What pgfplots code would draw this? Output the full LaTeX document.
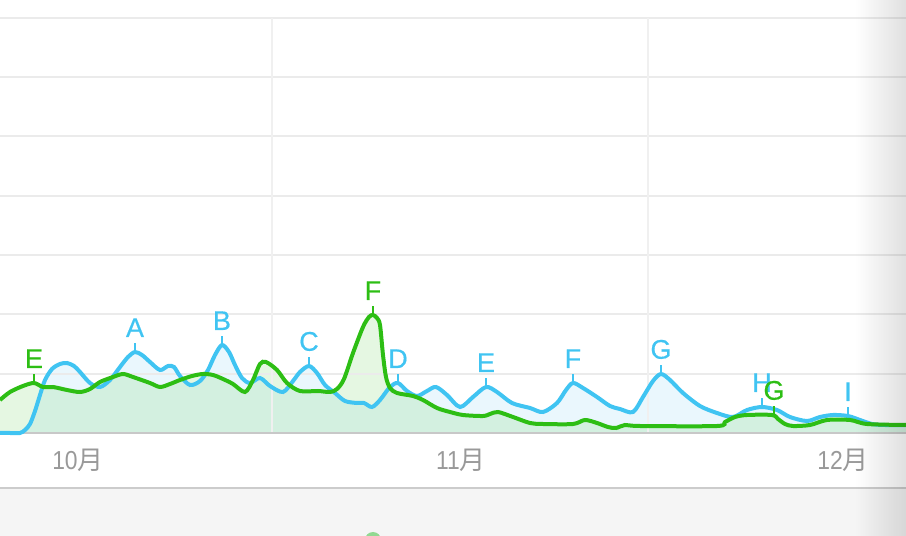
\documentclass[border=0pt]{standalone}
\usepackage{pgfplots}
\usepackage{pgfplotstable}
\pgfplotsset{compat=1.18}
\usepgfplotslibrary{fillbetween}
\usetikzlibrary{fadings}
\usepackage{fontspec}
\setmainfont{Liberation Sans}
\newfontfamily\lblfont[FakeBold=0.5]{Liberation Sans}
\newfontfamily\narrow[FakeStretch=0.88]{Liberation Sans}
\newfontfamily\cjk{Noto Sans CJK SC}
\definecolor{bline}{HTML}{40C4F2}
\definecolor{gline}{HTML}{2DBE14}
\definecolor{bfill}{HTML}{EAF7FD}
\definecolor{gridc}{HTML}{EBEBEB}
\definecolor{vgridc}{HTML}{F0F0F0}
\definecolor{basec}{HTML}{C8C8C8}
\definecolor{bgc}{HTML}{F5F5F5}
\definecolor{sepc}{HTML}{CCCCCC}
\definecolor{tickc}{HTML}{999999}
\definecolor{dotc}{HTML}{92D992}

\pgfplotstableread{
x v
0 0
10 0
20 0
25 3
30 9
35 22
40 38
45 53
52 64
60 69
67 70
74 67
80 61
90 50
100 46
110 53
120 66
128 76
135 81
142 78
150 71
160 63
168 67
174 66
180 57
190 48
200 52
208 63
215 78
222 88
229 81
235 68
242 55
250 50
260 55
270 47
283 41
293 52
300 61
309 67
317 60
325 48
335 40
345 32
357 30
364 30
372 26
380 33
390 46
398 50
407 42
417 37
427 42
436 46
447 38
460 26
473 36
486 46
497 41
512 30
530 25
543 21
557 30
566 43
573 50
583 45
597 36
610 27
620 24
633 21
643 36
653 52
661 59
670 53
683 40
700 27
717 20
733 16
747 23
762 26
777 23
790 16
807 12
820 16
833 18
848 17
860 13
872 9
885 8
906 8
}\bluedata

\pgfplotstableread{
x v
0 33
10 41
23 47
34 50
43 46
53 46
67 43
80 41
90 44
100 51
113 56
123 59
133 56
150 50
160 46
170 49
180 53
192 57
203 59
213 58
223 54
233 49
245 41
253 53
260 69
266 71
277 63
287 50
300 42
318 42
330 41
337 44
344 54
353 80
363 106
369 116
373 118
377 115
380 108
383 78
386 56
390 45
397 40
413 37
423 33
437 25
450 21
463 18
483 17
490 19
498 21
513 16
530 10
543 9
573 9
585 13
597 10
608 6
616 5
625 8
640 7
717 7
725 11
735 16
747 18
772 18
778 14
785 9
793 7
810 8
827 13
850 13
867 9
906 8
}\greendata

\newcommand{\lbl}[4]{%
  \draw[#1, line width=1pt] (axis cs:#2,#3) -- ([yshift=4.5pt]axis cs:#2,#3)
    node[above, inner sep=0pt, yshift=2.5pt, text=#1, font=\lblfont\fontsize{13.5}{15}\selectfont] {#4};}

\begin{document}
\begin{tikzpicture}
\begin{axis}[
  width=453pt, height=268pt, scale only axis,
  xmin=0, xmax=906, ymin=-103, ymax=433,
  hide axis, clip=false,
]
\fill[bgc] (axis cs:0,-103) rectangle (axis cs:906,-55);
\draw[sepc, line width=1pt] (axis cs:0,-55) -- (axis cs:906,-55);
\fill[dotc] (axis cs:373,-107) circle (4pt);

% grid
\draw[gridc, line width=1pt] (axis cs:0,59.3) -- (axis cs:906,59.3);
\draw[gridc, line width=1pt] (axis cs:0,118.6) -- (axis cs:906,118.6);
\draw[gridc, line width=1pt] (axis cs:0,177.9) -- (axis cs:906,177.9);
\draw[gridc, line width=1pt] (axis cs:0,237.2) -- (axis cs:906,237.2);
\draw[gridc, line width=1pt] (axis cs:0,296.5) -- (axis cs:906,296.5);
\draw[gridc, line width=1pt] (axis cs:0,355.8) -- (axis cs:906,355.8);
\draw[gridc, line width=1pt] (axis cs:0,415.1) -- (axis cs:906,415.1);
\draw[vgridc, line width=1pt] (axis cs:272,0) -- (axis cs:272,415.1);
\draw[vgridc, line width=1pt] (axis cs:648,0) -- (axis cs:648,415.1);
\draw[basec, line width=1pt] (axis cs:0,0) -- (axis cs:906,0);

\addplot[name path=bp, draw=none, smooth] table[x=x,y=v] {\bluedata};
\addplot[name path=gp, draw=none, smooth] table[x=x,y=v] {\greendata};
\addplot[name path=base, draw=none] coordinates {(0,0) (906,0)};
\addplot[fill=bfill, draw=none] fill between[of=bp and base];
\addplot[fill=gline, fill opacity=0.12, draw=none] fill between[of=gp and base];
\addplot[bline, line width=2pt, smooth] table[x=x,y=v] {\bluedata};
\addplot[gline, line width=2pt, smooth] table[x=x,y=v] {\greendata};

\lbl{gline}{34}{50}{E}
\lbl{bline}{135}{81}{A}
\lbl{bline}{222}{88}{B}
\lbl{bline}{309}{67}{C}
\lbl{gline}{373}{118}{F}
\lbl{bline}{398}{50}{D}
\lbl{bline}{486}{46}{E}
\lbl{bline}{573}{50}{F}
\lbl{bline}{661}{59}{G}
\lbl{bline}{762}{26}{H}
\lbl{gline}{774}{18}{G}
\lbl{bline}{848}{17}{I}

\node[text=tickc, font=\narrow\fontsize{13}{15}\selectfont] at (axis cs:78,-27) {10{\cjk 月}};
\node[text=tickc, font=\narrow\fontsize{13}{15}\selectfont] at (axis cs:461,-27) {11{\cjk 月}};
\node[text=tickc, font=\narrow\fontsize{13}{15}\selectfont] at (axis cs:843,-27) {12{\cjk 月}};

\fill[black, opacity=0.12, path fading=west] (axis cs:855,-103) rectangle (axis cs:906,433);
\end{axis}
\pgfresetboundingbox
\useasboundingbox (current axis.south west) rectangle (current axis.north east);
\end{tikzpicture}
\end{document}
